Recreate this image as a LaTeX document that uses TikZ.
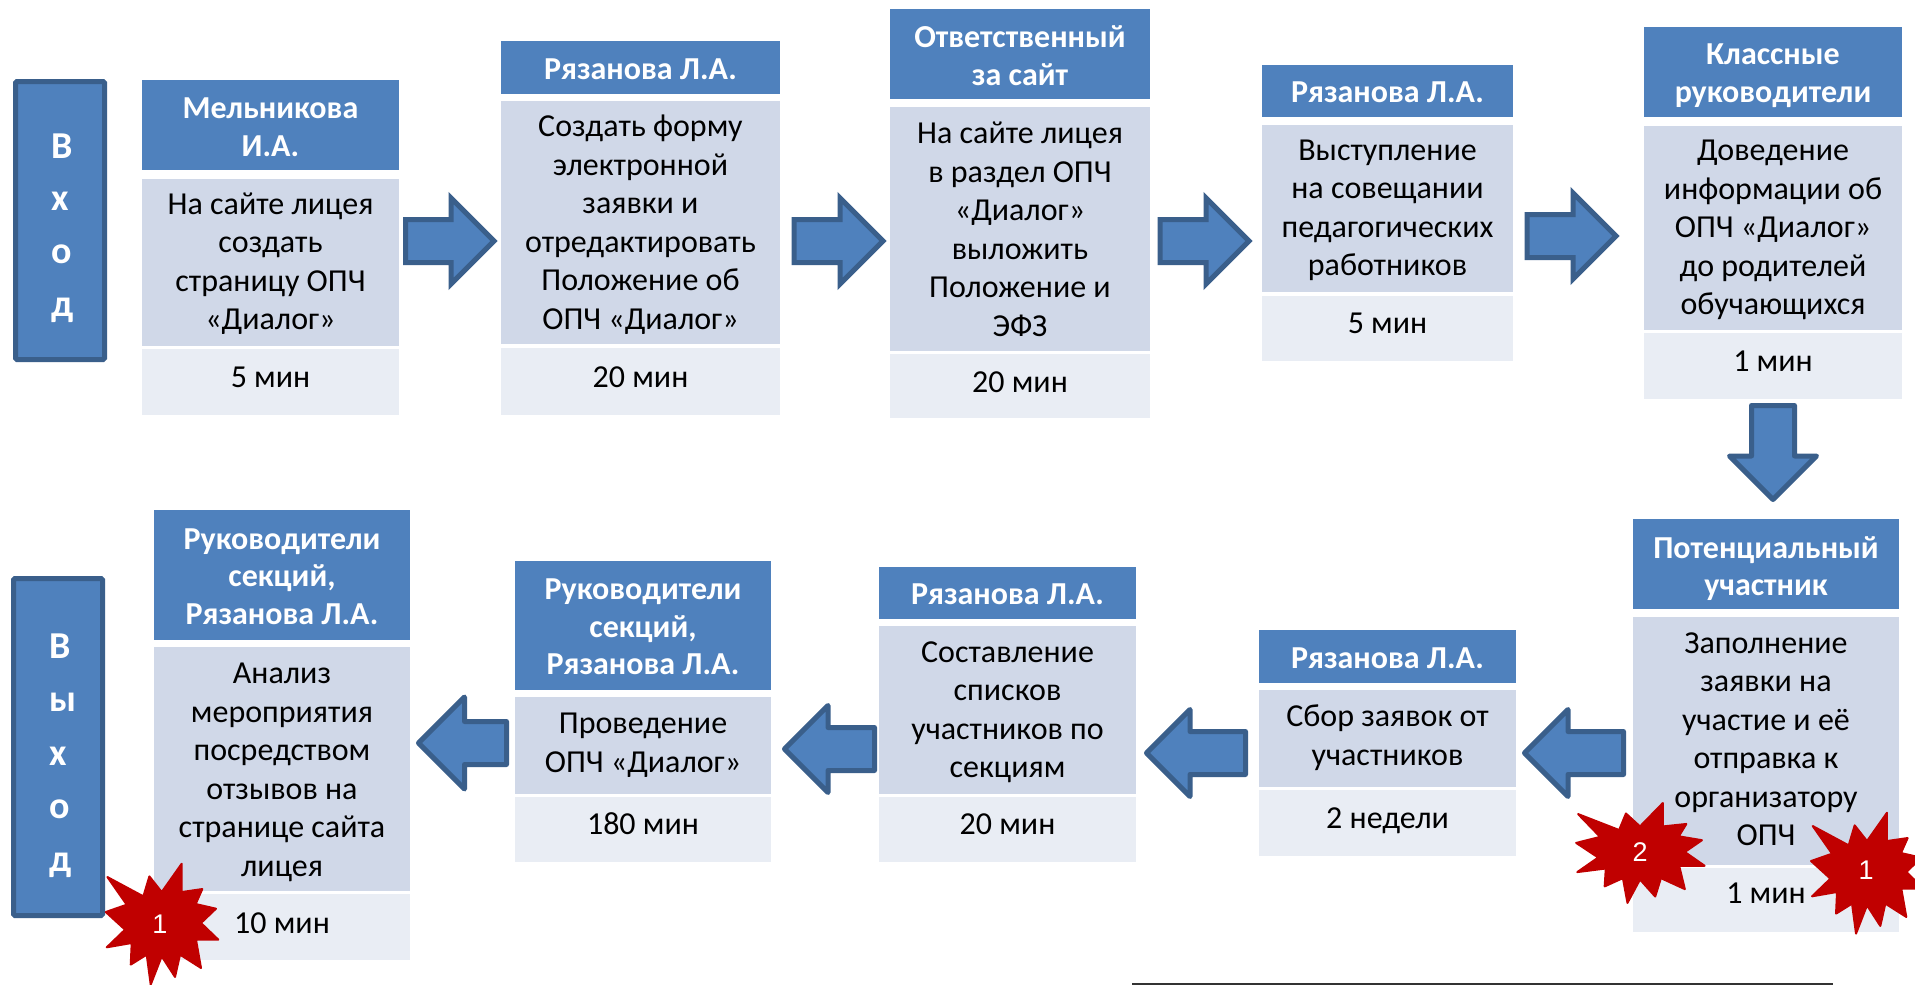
\documentclass[tikz,border=0pt]{standalone}
\usepackage{fontspec}
\setmainfont{Carlito}
\newfontfamily\starfont{Liberation Sans}
\definecolor{hdrblue}{HTML}{4F81BD}
\definecolor{bodyblue}{HTML}{D0D8E8}
\definecolor{footblue}{HTML}{E9EDF4}
\definecolor{edgeblue}{HTML}{3A5F8B}
\definecolor{starred}{HTML}{C00000}
\tikzset{
  cellbase/.style={rectangle,inner sep=0pt,outer sep=0pt,align=center},
  hdrcell/.style={cellbase,fill=hdrblue,text=white,font=\fontsize{32}{37.5}\selectfont\bfseries},
  bodycell/.style={cellbase,fill=bodyblue,text=black,font=\fontsize{32}{38.5}\selectfont},
  footcell/.style={cellbase,fill=footblue,text=black,font=\fontsize{32}{38.5}\selectfont},
  sidebox/.style={rectangle,draw=edgeblue,line width=5pt,fill=hdrblue,rounded corners=1.5pt,inner sep=0pt,outer sep=0pt},
  sideletters/.style={inner sep=0pt,outer sep=0pt,align=left,text=white},
  blockarrow/.style={draw=edgeblue,line width=5pt,fill=hdrblue},
  arrowR/.style={blockarrow,line join=miter},
  arrowO/.style={blockarrow,line join=round},
  starshape/.style={fill=starred,draw=starred,line width=2pt,line join=round},
  starlabel/.style={inner sep=0pt,outer sep=0pt,text=white,font=\fontsize{27}{27}\starfont},
  footrule/.style={draw=black!80,line width=1.4pt}
}
\newcommand{\cell}[8]{%
  \pgfmathsetmacro{\cx}{(#3+#4)/2}\pgfmathsetmacro{\cy}{(#5+#6)/2}%
  \pgfmathsetmacro{\cw}{#4-#3}\pgfmathsetmacro{\ch}{#6-#5}%
  \node[#2,minimum width=\cw pt,minimum height=\ch pt] (#1) at (\cx,\cy) {\raisebox{\dimexpr-#7pt-6pt\relax}[0pt][0pt]{\begin{tabular}{@{}c@{}}#8\end{tabular}}};}
\newcommand{\hdr}[7]{\cell{#1}{hdrcell}{#2}{#3}{#4}{#5}{#6}{#7}}
\newcommand{\bod}[7]{\cell{#1}{bodycell}{#2}{#3}{#4}{#5}{#6}{#7}}
\newcommand{\foot}[7]{\cell{#1}{footcell}{#2}{#3}{#4}{#5}{#6}{#7}}
% name, style, rotation, tip x, tip y, length, head half-width
\newcommand{\blockarr}[7]{%
  \coordinate (#1) at (#4,#5);
  \draw[#2,shift={(#1)},rotate=#3] (0,0) -- (-#7,#7) -- (-#7,21.5) -- (-#6,21.5) -- (-#6,-21.5) -- (-#7,-21.5) -- (-#7,-#7) -- cycle;}
\newcommand{\starpath}{(60,-178) -- (60,-93) -- (122,-102) -- (102,-57) -- (163,-43) -- (118,0) -- (170,50) -- (103,50) -- (118,135) -- (55,95) -- (40,162) -- (0,100) -- (-33,185) -- (-45,95) -- (-93,125) -- (-90,60) -- (-165,73) -- (-110,20) -- (-168,-33) -- (-105,-55) -- (-163,-138) -- (-55,-80) -- (-37,-140) -- (0,-93) -- cycle}
\begin{document}
\begin{tikzpicture}[x=1pt,y=-1pt]
\useasboundingbox (0,0) rectangle (1915,985);
\fill[white] (0,0) rectangle (1915,985);
% entry and exit bars
\node[sidebox,minimum width=89pt,minimum height=278pt] (entry) at (60,220.5) {};
\node[sideletters,font=\fontsize{38}{52.6}\selectfont\bfseries] (entrytext) at (63,228) {В\\х\\о\\д};
\node[sidebox,minimum width=89pt,minimum height=337pt] (exit) at (58,747) {};
\node[sideletters,font=\fontsize{38}{53.3}\selectfont\bfseries] (exittext) at (63,756) {В\\ы\\х\\о\\д};
% box 1
\hdr{h1}{142}{399}{80}{170}{5}{Мельникова\\И.А.}
\bod{b1}{142}{399}{179}{346}{2}{На сайте лицея\\создать\\страницу ОПЧ\\«Диалог»}
\foot{f1}{142}{399}{349}{415}{-1.5}{5 мин}
% box 2
\hdr{h2}{501}{780}{41}{94}{4.5}{Рязанова Л.А.}
\bod{b2}{501}{780}{101}{344}{3}{Создать форму\\электронной\\заявки и\\отредактировать\\Положение об\\ОПЧ «Диалог»}
\foot{f2}{501}{780}{348}{415}{-1.5}{20 мин}
% box 3
\hdr{h3}{890}{1150}{9}{99}{5}{Ответственный\\за сайт}
\bod{b3}{890}{1150}{107}{351}{3.7}{На сайте лицея\\в раздел ОПЧ\\«Диалог»\\выложить\\Положение и\\ЭФЗ}
\foot{f3}{890}{1150}{354}{418}{-0.5}{20 мин}
% box 4
\hdr{h4}{1262}{1513}{65}{117}{4}{Рязанова Л.А.}
\bod{b4}{1262}{1513}{125}{292}{1.8}{Выступление\\на совещании\\педагогических\\работников}
\foot{f4}{1262}{1513}{296}{361}{-2.6}{5 мин}
% box 5
\hdr{h5}{1644}{1902}{27}{117}{4}{Классные\\руководители}
\bod{b5}{1644}{1902}{126}{330}{2.4}{Доведение\\информации об\\ОПЧ «Диалог»\\до родителей\\обучающихся}
\foot{f5}{1644}{1902}{333}{399}{-2.4}{1 мин}
% box 6
\hdr{h6}{1633}{1899}{519}{609}{5.5}{Потенциальный\\участник}
\bod{b6}{1633}{1899}{617}{865}{1.2}{Заполнение\\заявки на\\участие и её\\отправка к\\организатору\\ОПЧ}
\foot{f6}{1633}{1899}{868}{932}{-3.6}{1 мин}
% box 7
\hdr{h7}{1259}{1516}{630}{683}{4.5}{Рязанова Л.А.}
\bod{b7}{1259}{1516}{690}{787}{0}{Сбор заявок от\\участников}
\foot{f7}{1259}{1516}{790}{856}{-2}{2 недели}
% box 8
\hdr{h8}{879}{1136}{567}{619}{4}{Рязанова Л.А.}
\bod{b8}{879}{1136}{626}{794}{2.4}{Составление\\списков\\участников по\\секциям}
\foot{f8}{879}{1136}{797}{862}{-2}{20 мин}
% box 9
\hdr{h9}{515}{771}{561}{690}{4.5}{Руководители\\секций,\\Рязанова Л.А.}
\bod{b9}{515}{771}{697}{794}{0}{Проведение\\ОПЧ «Диалог»}
\foot{f9}{515}{771}{797}{862}{-2}{180 мин}
% box 10
\hdr{h10}{154}{410}{510}{640}{4.5}{Руководители\\секций,\\Рязанова Л.А.}
\bod{b10}{154}{410}{647}{891}{3.7}{Анализ\\мероприятия\\посредством\\отзывов на\\странице сайта\\лицея}
\foot{f10}{154}{410}{894}{960}{-1.2}{10 мин}
% block arrows
\blockarr{a1}{arrowR}{0}{494}{241}{88.5}{43}
\blockarr{a2}{arrowR}{0}{883}{241}{89}{43}
\blockarr{a3}{arrowR}{0}{1249}{241}{89}{43}
\blockarr{a4}{arrowR}{0}{1616}{236}{89}{43}
\blockarr{a5}{arrowO}{-90}{1773}{499.5}{94}{43.5}
\blockarr{a6}{arrowO}{180}{1524.5}{753}{99}{43.5}
\blockarr{a7}{arrowO}{180}{1146.5}{753}{99}{43.5}
\blockarr{a8}{arrowO}{180}{784.5}{749}{90}{43.5}
\blockarr{a9}{arrowO}{180}{418.5}{743}{88}{46}
% stars
\begin{scope}[shift={(161.7,923)},x=0.333pt,y=-0.333pt]
\path[starshape] \starpath;
\end{scope}
\node[starlabel] (s1) at (160,924) {1};
\begin{scope}[shift={(1640,852)},x=0.38pt,y=-0.275pt]
\path[starshape] \starpath;
\end{scope}
\node[starlabel] (s2) at (1640,852) {2};
\begin{scope}[shift={(1867,872)},x=0.333pt,y=-0.333pt]
\path[starshape] \starpath;
\end{scope}
\node[starlabel] (s3) at (1866,870) {1};
% rule at the foot
\coordinate (ruleL) at (1132,984);
\coordinate (ruleR) at (1833,984);
\draw[footrule] (ruleL) -- (ruleR);
\end{tikzpicture}
\end{document}
